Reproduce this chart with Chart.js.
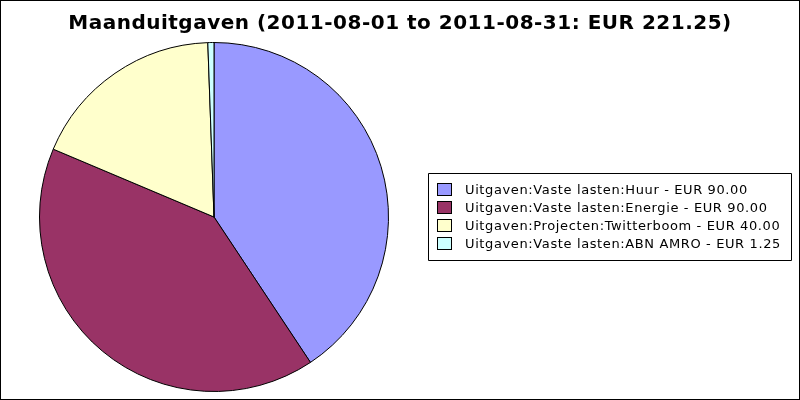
<!DOCTYPE html>
<html>
<head>
<meta charset="utf-8">
<script src="https://cdn.jsdelivr.net/npm/chart.js@4.4.0/dist/chart.umd.min.js"></script>
<style>
  html, body { margin: 0; padding: 0; background: #ffffff; }
  #wrap { position: relative; width: 800px; height: 400px; }
</style>
</head>
<body>
<div id="wrap"><canvas id="pieChart" width="800" height="400"></canvas></div>
<script>
// Maanduitgaven - pie chart

const titel = 'Maanduitgaven (2011-08-01 to 2011-08-31: EUR 221.25)';
const categorieen = [
  'Uitgaven:Vaste lasten:Huur',
  'Uitgaven:Vaste lasten:Energie',
  'Uitgaven:Projecten:Twitterboom',
  'Uitgaven:Vaste lasten:ABN AMRO',
];
const bedragen = [90.0, 90.0, 40.0, 1.25];
const kleuren = ['#9999ff', '#993366', '#ffffcc', '#ccffff'];

// title, legend box and outer frame
const extraTekening = {
  id: 'extraTekening',
  afterDraw(chart) {
    const ctx = chart.ctx;
    ctx.save();

    // outer frame
    ctx.strokeStyle = '#000000';
    ctx.lineWidth = 1;
    ctx.strokeRect(0.5, 0.5, chart.width - 1, chart.height - 1);

    // title
    ctx.fillStyle = '#000000';
    ctx.font = "bold 20px 'DejaVu Sans', sans-serif";
    ctx.letterSpacing = '0.5px';
    ctx.textAlign = 'center';
    ctx.textBaseline = 'alphabetic';
    ctx.fillText(titel, 400, 29);

    // legend
    const bx = 428.5, by = 173.5, bw = 363, bh = 87;
    ctx.fillStyle = '#ffffff';
    ctx.fillRect(bx, by, bw, bh);
    ctx.beginPath();
    ctx.rect(bx, by, bw, bh);
    ctx.stroke();
    ctx.save();
    ctx.beginPath();
    ctx.rect(bx, by, bw, bh);
    ctx.clip();
    ctx.font = "13px 'DejaVu Sans', sans-serif";
    ctx.letterSpacing = '0.62px';
    ctx.textAlign = 'left';
    const data = chart.data.datasets[0].data;
    chart.data.labels.forEach(function (label, i) {
      const y = 183 + i * 18;
      ctx.fillStyle = kleuren[i];
      ctx.fillRect(437.5, y + 0.5, 14, 12);
      ctx.strokeStyle = '#000000';
      ctx.strokeRect(437.5, y + 0.5, 14, 12);
      ctx.fillStyle = '#000000';
      ctx.fillText(label + ' - EUR ' + data[i].toFixed(2), 465, y + 11);
    });
    ctx.restore();
    ctx.restore();
  },
};

new Chart(document.getElementById('pieChart'), {
  type: 'pie',
  data: {
    labels: categorieen,
    datasets: [{
      data: bedragen,
      backgroundColor: kleuren,
      borderColor: '#000000',
      borderWidth: 1,
    }],
  },
  options: {
    responsive: false,
    animation: false,
    layout: {
      padding: { left: 39, right: 411, top: 42, bottom: 8 },
    },
    plugins: {
      legend: { display: false },
      title: { display: false },
      tooltip: { enabled: false },
    },
  },
  plugins: [extraTekening],
});
</script>
</body>
</html>
